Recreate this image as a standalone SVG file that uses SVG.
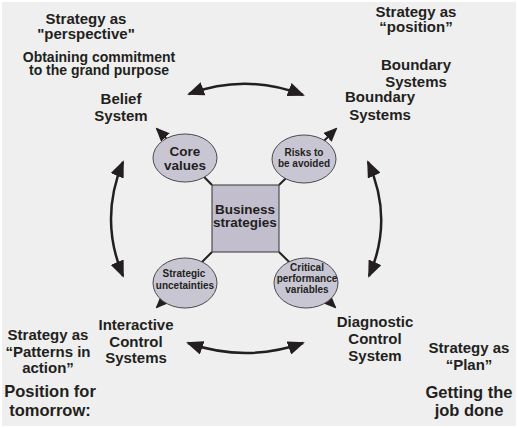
<svg xmlns="http://www.w3.org/2000/svg" width="518" height="428" viewBox="0 0 518 428">
<style>
text{font-family:"Liberation Sans",Arial,sans-serif;font-weight:bold;fill:#231f20;text-anchor:middle}
.lbl{font-size:15px}
.goal{font-size:16.5px}
.sm{font-size:10px}
.arc{fill:none;stroke:#231f20;stroke-width:2.5}
.spoke{fill:none;stroke:#231f20;stroke-width:2}
.ell{fill:#c9c6d4;stroke:#4a4a4a;stroke-width:1}
</style>
<defs>
<marker id="big" markerUnits="userSpaceOnUse" markerWidth="17" markerHeight="14" refX="15" refY="7" orient="auto-start-reverse">
<path d="M0,0 L17,7 L0,14 z" fill="#231f20"/>
</marker>
<marker id="sm" markerUnits="userSpaceOnUse" markerWidth="14" markerHeight="12" refX="12" refY="6" orient="auto">
<path d="M0,0 L14,6 L0,12 z" fill="#231f20"/>
</marker>
</defs>
<rect x="0" y="0" width="518" height="428" fill="#ffffff"/>
<rect x="2" y="2" width="514" height="424" fill="#efefef"/>

<g id="connectors">
<path class="arc" d="M189,94 Q246,73 303,95" marker-start="url(#big)" marker-end="url(#big)"/>
<path class="arc" d="M188,343 Q246,363 303,343" marker-start="url(#big)" marker-end="url(#big)"/>
<path class="arc" d="M123,162 Q99,219 123,276" marker-start="url(#big)" marker-end="url(#big)"/>
<path class="arc" d="M368,162 Q394,219 369,276" marker-start="url(#big)" marker-end="url(#big)"/>
<line class="spoke" x1="212" y1="185" x2="157" y2="129" marker-end="url(#sm)"/>
<line class="spoke" x1="279" y1="185" x2="336" y2="129" marker-end="url(#sm)"/>
<line class="spoke" x1="212" y1="252" x2="157" y2="307" marker-end="url(#sm)"/>
<line class="spoke" x1="279" y1="252" x2="335" y2="307" marker-end="url(#sm)"/>
</g>

<g id="core">
<ellipse class="ell" cx="185" cy="158" rx="32" ry="24"/>
<text x="185" y="156" font-size="13.5">Core</text>
<text x="185" y="170" font-size="13.5">values</text>
</g>
<g id="risks">
<ellipse class="ell" cx="304" cy="159" rx="32" ry="24"/>
<text class="sm" x="304" y="156">Risks to</text>
<text class="sm" x="304" y="167">be avoided</text>
</g>
<g id="strategic">
<ellipse class="ell" cx="185" cy="283" rx="32" ry="25"/>
<text class="sm" x="184" y="277">Strategic</text>
<text class="sm" x="185" y="289">uncetainties</text>
</g>
<g id="critical">
<ellipse class="ell" cx="306" cy="283" rx="32" ry="25"/>
<text class="sm" x="307" y="271">Critical</text>
<text class="sm" x="307" y="282">performance</text>
<text class="sm" x="307" y="293">variables</text>
</g>
<g id="business">
<rect x="212" y="185" width="67" height="67" fill="#c2becd" stroke="#333333" stroke-width="1"/>
<text x="245" y="214" font-size="13.5">Business</text>
<text x="245" y="227" font-size="13.5">strategies</text>
</g>

<g id="belief">
<text class="lbl" x="86" y="24">Strategy as</text>
<text class="lbl" x="86" y="39">"perspective"</text>
<text x="99" y="62" font-size="14">Obtaining commitment</text>
<text x="99" y="75" font-size="14">to the grand purpose</text>
<text class="lbl" x="121" y="104">Belief</text>
<text class="lbl" x="121" y="121">System</text>
</g>
<g id="boundary">
<text class="lbl" x="416" y="17">Strategy as</text>
<text class="lbl" x="416" y="32">“position”</text>
<text class="lbl" x="416" y="70">Boundary</text>
<text class="lbl" x="416" y="87">Systems</text>
<text class="lbl" x="380" y="102">Boundary</text>
<text class="lbl" x="380" y="120">Systems</text>
</g>
<g id="interactive">
<text class="lbl" x="136" y="330">Interactive</text>
<text class="lbl" x="136" y="347">Control</text>
<text class="lbl" x="136" y="363">Systems</text>
<text class="lbl" x="48" y="340">Strategy as</text>
<text class="lbl" x="48" y="357">“Patterns in</text>
<text class="lbl" x="48" y="373">action”</text>
<text class="goal" x="50" y="397">Position for</text>
<text class="goal" x="50" y="416">tomorrow:</text>
</g>
<g id="diagnostic">
<text class="lbl" x="375" y="327">Diagnostic</text>
<text class="lbl" x="375" y="344">Control</text>
<text class="lbl" x="375" y="361">System</text>
<text class="lbl" x="469" y="353">Strategy as</text>
<text class="lbl" x="469" y="370">“Plan”</text>
<text class="goal" x="469" y="398">Getting the</text>
<text class="goal" x="469" y="416">job done</text>
</g>
</svg>
